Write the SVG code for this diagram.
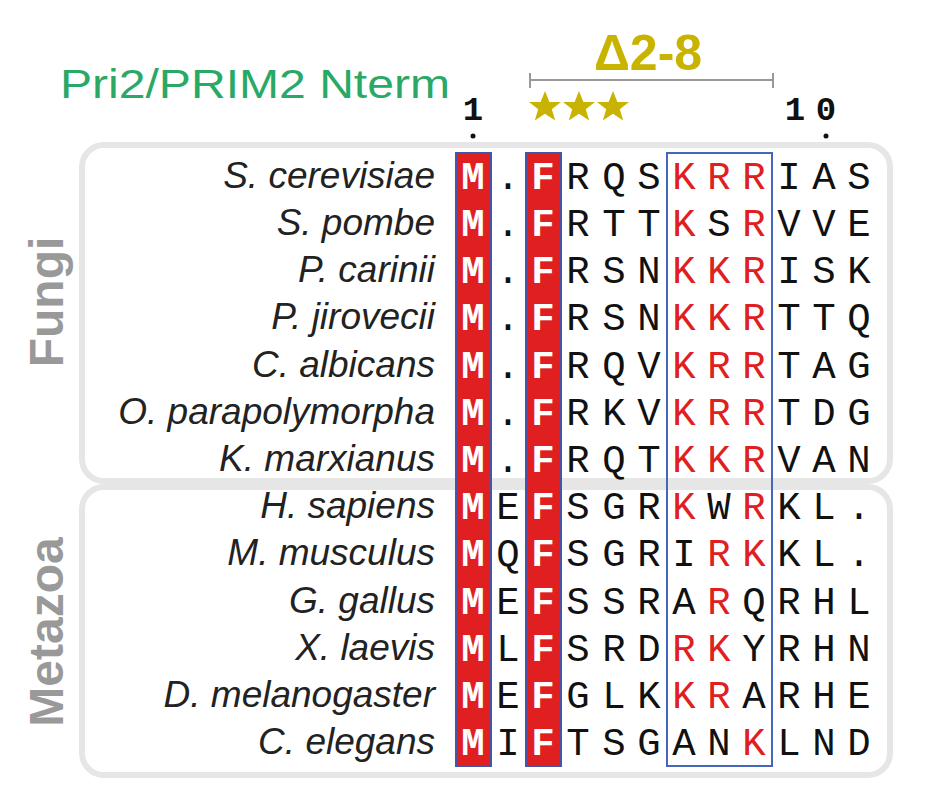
<svg xmlns="http://www.w3.org/2000/svg" width="948" height="794" viewBox="0 0 948 794">
<style>
.sp{font-family:"Liberation Sans",Arial,sans-serif;font-style:italic;font-size:37px;fill:#222;text-anchor:end}
.r{font-family:"Liberation Mono","Courier New",monospace;font-size:39px;fill:#111;text-anchor:middle}
.k{fill:#e02020}
.w{fill:#fff;font-weight:bold}
.pan{fill:#fff;stroke:#e6e6e6;stroke-width:6}
.grp{font-family:"Liberation Sans",Arial,sans-serif;font-weight:bold;font-size:48px;fill:#999;text-anchor:middle}
</style>
<rect width="948" height="794" fill="#fff"/>
<g id="panels">
<rect class="pan" x="82" y="145" width="808" height="336" rx="22"/>
<rect class="pan" x="82" y="487" width="808" height="288" rx="22"/>
</g>
<text class="grp" transform="translate(63,302) rotate(-90)">Fungi</text>
<text class="grp" transform="translate(63,632) rotate(-90)">Metazoa</text>
<text x="60" y="98" font-family="Liberation Sans,Arial,sans-serif" font-size="40" fill="#2aa866" textLength="390" lengthAdjust="spacingAndGlyphs">Pri2/PRIM2 Nterm</text>
<text x="648" y="70" font-family="Liberation Sans,Arial,sans-serif" font-size="50" font-weight="bold" fill="#c8b400" text-anchor="middle">Δ2-8</text>
<g stroke="#999" stroke-width="2"><line x1="530" y1="80" x2="773" y2="80"/><line x1="530" y1="73" x2="530" y2="88"/><line x1="773" y1="73" x2="773" y2="88"/></g>
<g fill="#c8b400">
<polygon id="st" points="545,91 549.4,102 561,102 551.8,109.2 555.2,120.5 545,113.8 534.8,120.5 538.2,109.2 529,102 540.6,102"/>
<use href="#st" x="34"/><use href="#st" x="68"/>
</g>
<g font-family="Liberation Mono,Courier New,monospace" font-weight="bold" font-size="34" fill="#111" text-anchor="middle">
<text x="473" y="120">1</text><text x="795" y="120">1</text><text x="826" y="120">0</text>
</g>
<circle cx="473" cy="136" r="2.5" fill="#111"/><circle cx="826" cy="136" r="2.5" fill="#111"/>
<g id="columns">
<rect x="456" y="153" width="35" height="613" fill="#e02020" stroke="#4455aa" stroke-width="2"/>
<rect x="526" y="153" width="35" height="613" fill="#e02020" stroke="#4455aa" stroke-width="2"/>
<rect x="667" y="153" width="105" height="613" fill="none" stroke="#4466bb" stroke-width="2"/>
</g>
<g id="labels">
<text class="sp" x="435" y="188">S. cerevisiae</text>
<text class="sp" x="435" y="235">S. pombe</text>
<text class="sp" x="435" y="282">P. carinii</text>
<text class="sp" x="435" y="329">P. jirovecii</text>
<text class="sp" x="435" y="377">C. albicans</text>
<text class="sp" x="435" y="424">O. parapolymorpha</text>
<text class="sp" x="435" y="471">K. marxianus</text>
<text class="sp" x="435" y="518">H. sapiens</text>
<text class="sp" x="435" y="565">M. musculus</text>
<text class="sp" x="435" y="613">G. gallus</text>
<text class="sp" x="435" y="660">X. laevis</text>
<text class="sp" x="435" y="707">D. melanogaster</text>
<text class="sp" x="435" y="754">C. elegans</text>
</g>
<g id="residues" class="r">
<text y="189"><tspan x="473" class="w">M</tspan><tspan x="508">.</tspan><tspan x="543" class="w">F</tspan><tspan x="578">R</tspan><tspan x="614">Q</tspan><tspan x="649">S</tspan><tspan x="684" class="k">K</tspan><tspan x="719" class="k">R</tspan><tspan x="754" class="k">R</tspan><tspan x="789">I</tspan><tspan x="824">A</tspan><tspan x="859">S</tspan></text>
<text y="236"><tspan x="473" class="w">M</tspan><tspan x="508">.</tspan><tspan x="543" class="w">F</tspan><tspan x="578">R</tspan><tspan x="614">T</tspan><tspan x="649">T</tspan><tspan x="684" class="k">K</tspan><tspan x="719">S</tspan><tspan x="754" class="k">R</tspan><tspan x="789">V</tspan><tspan x="824">V</tspan><tspan x="859">E</tspan></text>
<text y="283"><tspan x="473" class="w">M</tspan><tspan x="508">.</tspan><tspan x="543" class="w">F</tspan><tspan x="578">R</tspan><tspan x="614">S</tspan><tspan x="649">N</tspan><tspan x="684" class="k">K</tspan><tspan x="719" class="k">K</tspan><tspan x="754" class="k">R</tspan><tspan x="789">I</tspan><tspan x="824">S</tspan><tspan x="859">K</tspan></text>
<text y="330"><tspan x="473" class="w">M</tspan><tspan x="508">.</tspan><tspan x="543" class="w">F</tspan><tspan x="578">R</tspan><tspan x="614">S</tspan><tspan x="649">N</tspan><tspan x="684" class="k">K</tspan><tspan x="719" class="k">K</tspan><tspan x="754" class="k">R</tspan><tspan x="789">T</tspan><tspan x="824">T</tspan><tspan x="859">Q</tspan></text>
<text y="378"><tspan x="473" class="w">M</tspan><tspan x="508">.</tspan><tspan x="543" class="w">F</tspan><tspan x="578">R</tspan><tspan x="614">Q</tspan><tspan x="649">V</tspan><tspan x="684" class="k">K</tspan><tspan x="719" class="k">R</tspan><tspan x="754" class="k">R</tspan><tspan x="789">T</tspan><tspan x="824">A</tspan><tspan x="859">G</tspan></text>
<text y="425"><tspan x="473" class="w">M</tspan><tspan x="508">.</tspan><tspan x="543" class="w">F</tspan><tspan x="578">R</tspan><tspan x="614">K</tspan><tspan x="649">V</tspan><tspan x="684" class="k">K</tspan><tspan x="719" class="k">R</tspan><tspan x="754" class="k">R</tspan><tspan x="789">T</tspan><tspan x="824">D</tspan><tspan x="859">G</tspan></text>
<text y="472"><tspan x="473" class="w">M</tspan><tspan x="508">.</tspan><tspan x="543" class="w">F</tspan><tspan x="578">R</tspan><tspan x="614">Q</tspan><tspan x="649">T</tspan><tspan x="684" class="k">K</tspan><tspan x="719" class="k">K</tspan><tspan x="754" class="k">R</tspan><tspan x="789">V</tspan><tspan x="824">A</tspan><tspan x="859">N</tspan></text>
<text y="519"><tspan x="473" class="w">M</tspan><tspan x="508">E</tspan><tspan x="543" class="w">F</tspan><tspan x="578">S</tspan><tspan x="614">G</tspan><tspan x="649">R</tspan><tspan x="684" class="k">K</tspan><tspan x="719">W</tspan><tspan x="754" class="k">R</tspan><tspan x="789">K</tspan><tspan x="824">L</tspan><tspan x="859">.</tspan></text>
<text y="566"><tspan x="473" class="w">M</tspan><tspan x="508">Q</tspan><tspan x="543" class="w">F</tspan><tspan x="578">S</tspan><tspan x="614">G</tspan><tspan x="649">R</tspan><tspan x="684">I</tspan><tspan x="719" class="k">R</tspan><tspan x="754" class="k">K</tspan><tspan x="789">K</tspan><tspan x="824">L</tspan><tspan x="859">.</tspan></text>
<text y="614"><tspan x="473" class="w">M</tspan><tspan x="508">E</tspan><tspan x="543" class="w">F</tspan><tspan x="578">S</tspan><tspan x="614">S</tspan><tspan x="649">R</tspan><tspan x="684">A</tspan><tspan x="719" class="k">R</tspan><tspan x="754">Q</tspan><tspan x="789">R</tspan><tspan x="824">H</tspan><tspan x="859">L</tspan></text>
<text y="661"><tspan x="473" class="w">M</tspan><tspan x="508">L</tspan><tspan x="543" class="w">F</tspan><tspan x="578">S</tspan><tspan x="614">R</tspan><tspan x="649">D</tspan><tspan x="684" class="k">R</tspan><tspan x="719" class="k">K</tspan><tspan x="754">Y</tspan><tspan x="789">R</tspan><tspan x="824">H</tspan><tspan x="859">N</tspan></text>
<text y="708"><tspan x="473" class="w">M</tspan><tspan x="508">E</tspan><tspan x="543" class="w">F</tspan><tspan x="578">G</tspan><tspan x="614">L</tspan><tspan x="649">K</tspan><tspan x="684" class="k">K</tspan><tspan x="719" class="k">R</tspan><tspan x="754">A</tspan><tspan x="789">R</tspan><tspan x="824">H</tspan><tspan x="859">E</tspan></text>
<text y="755"><tspan x="473" class="w">M</tspan><tspan x="508">I</tspan><tspan x="543" class="w">F</tspan><tspan x="578">T</tspan><tspan x="614">S</tspan><tspan x="649">G</tspan><tspan x="684">A</tspan><tspan x="719">N</tspan><tspan x="754" class="k">K</tspan><tspan x="789">L</tspan><tspan x="824">N</tspan><tspan x="859">D</tspan></text>
</g>
</svg>
